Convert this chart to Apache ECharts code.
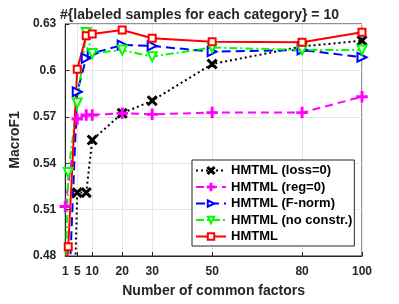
<!DOCTYPE html>
<html>
<head>
<meta charset="utf-8">
<script src="https://cdn.jsdelivr.net/npm/echarts@6/dist/echarts.min.js"></script>
<style>html,body{margin:0;padding:0;background:#fff}#c{width:399px;height:304px}</style>
</head>
<body>
<div id="c"></div>
<script>
const xFactors = [1, 2, 5, 8, 10, 20, 30, 50, 80, 100];
const xTicks = [1, 5, 10, 20, 30, 50, 80, 100];
const yTicks = [0.48, 0.51, 0.54, 0.57, 0.6, 0.63];
const seriesNames = ['HMTML (loss=0)', 'HMTML (reg=0)', 'HMTML (F-norm)', 'HMTML (no constr.)', 'HMTML'];
const lossZero  = [null, 0.30, 0.521, 0.521, 0.555, 0.5723, 0.5804, 0.6041, 0.6155, 0.6192];
const regZero   = [0.512, null, 0.5686, 0.5712, 0.5712, 0.5723, 0.5716, 0.5727, 0.5727, 0.583];
const fNorm     = [null, 0.445, 0.5862, 0.608, 0.611, 0.6164, 0.6158, 0.6121, 0.6132, 0.6085];
const noConstr  = [0.46, 0.534, 0.5789, 0.6245, 0.611, 0.6132, 0.6089, 0.6148, 0.6132, 0.6132];
const hmtml     = [0.463, 0.486, 0.6007, 0.6224, 0.6235, 0.6261, 0.6208, 0.6186, 0.6182, 0.6246];

const pairs = v => xFactors.map((x, i) => [x, v[i]]);
const txt = '#262626';
const font = 'Liberation Sans, Arial, sans-serif';
const X_PATH = 'path://M0,1.2L1.2,0L5,3.8L8.8,0L10,1.2L6.2,5L10,8.8L8.8,10L5,6.2L1.2,10L0,8.8L3.8,5Z';
const PLUS_PATH = 'path://M4.3,0H5.7V4.3H10V5.7H5.7V10H4.3V5.7H0V4.3H4.3Z';

function mk(name, data, color, lineType, symbol, size, rot) {
  return {
    name, type: 'line', data: pairs(data), connectNulls: true, clip: true,
    symbol, symbolSize: size, symbolRotate: rot || 0, showAllSymbol: true,
    lineStyle: { color, width: 2, type: lineType },
    itemStyle: { color, borderColor: color, borderWidth: 1.5 },
    emphasis: { disabled: true }, animation: false
  };
}

const chart = echarts.init(document.getElementById('c'), null, { renderer: 'canvas' });
chart.setOption({
  animation: false,
  backgroundColor: '#fff',
  title: {
    text: '#{labeled samples for each category} = 10',
    left: 'center', top: 3,
    textStyle: { fontFamily: font, fontSize: 14, fontWeight: 'bold', color: txt }
  },
  grid: { left: 55, right: 37, top: 24, bottom: 48, show: true, borderColor: txt, borderWidth: 1, backgroundColor: 'transparent' },
  legend: {
    orient: 'vertical', left: 192, top: 160,
    itemWidth: 30, itemHeight: 8, itemGap: 3.5,
    padding: [4, 2, 3, 3],
    backgroundColor: '#fff', borderColor: txt, borderWidth: 1, borderRadius: 0,
    textStyle: { fontFamily: font, fontSize: 13, fontWeight: 'bold', color: '#000', lineHeight: 13 },
    data: seriesNames
  },
  xAxis: {
    type: 'value', min: 1, max: 100,
    name: 'Number of common factors', nameLocation: 'middle', nameGap: 28,
    nameTextStyle: { fontFamily: font, fontSize: 14, fontWeight: 'bold', color: txt },
    axisLine: { show: true, lineStyle: { color: txt } },
    axisTick: { show: true, inside: true, length: 4, customValues: xTicks, lineStyle: { color: txt } },
    axisLabel: { customValues: xTicks, margin: 10, fontFamily: font, fontSize: 12, fontWeight: 'bold', color: txt },
    splitLine: { show: true, lineStyle: { color: '#e6e6e6', width: 1 } }
  },
  yAxis: {
    type: 'value', min: 0.48, max: 0.63, interval: 0.03,
    name: 'MacroF1', nameLocation: 'middle', nameGap: 36,
    nameTextStyle: { fontFamily: font, fontSize: 14, fontWeight: 'bold', color: txt },
    axisLine: { show: true, lineStyle: { color: txt } },
    axisTick: { show: true, inside: true, length: 4, lineStyle: { color: txt } },
    axisLabel: { margin: 9, fontFamily: font, fontSize: 12, fontWeight: 'bold', color: txt,
      formatter: v => String(+v.toFixed(2)) },
    splitLine: { show: true, lineStyle: { color: '#e6e6e6', width: 1 } }
  },
  series: [
    mk(seriesNames[0], lossZero, '#000000', [2, 3], X_PATH, 9),
    mk(seriesNames[1], regZero, '#ff00ff', [8, 5], PLUS_PATH, 10),
    mk(seriesNames[2], fNorm, '#0000ff', [9, 5], 'emptyTriangle', 9, -90),
    mk(seriesNames[3], noConstr, '#00ff00', [8, 3, 2, 3], 'emptyTriangle', 9, 180),
    mk(seriesNames[4], hmtml, '#ff0000', 'solid', 'emptyRect', 7)
  ]
});
</script>
</body>
</html>
